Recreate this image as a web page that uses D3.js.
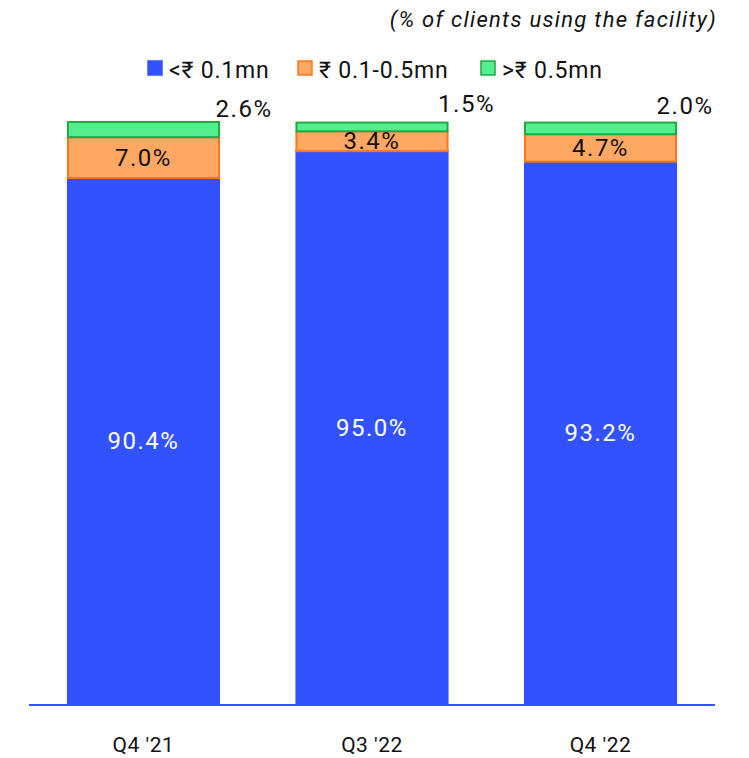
<!DOCTYPE html>
<html>
<head>
<meta charset="utf-8">
<script src="https://cdn.jsdelivr.net/npm/d3@7.9.0/dist/d3.min.js"></script>
<style>
  body { margin: 0; background: #fff; }
  text { font-family: Roboto, "Noto Sans", sans-serif; }
</style>
</head>
<body>
<div id="viz"></div>
<script>
// data
const quarters = ["Q4 '21", "Q3 '22", "Q4 '22"];
const series = ["small", "mid", "large"];
const seriesLabels = ["<₹ 0.1mn", "₹ 0.1-0.5mn", ">₹ 0.5mn"];
const smallValues = [90.4, 95.0, 93.2];
const midValues = [7.0, 3.4, 4.7];
const largeValues = [2.6, 1.5, 2.0];

const fills = ["#3352ff", "#ffa863", "#55ee8c"];
const strokes = ["#3352ff", "#ff7615", "#1faa47"];

const width = 749, height = 758;
const baseline = 705;
const topY = 122;

const svg = d3.select("#viz").append("svg")
  .attr("width", width)
  .attr("height", height);

const rows = quarters.map((q, i) => ({
  quarter: q, small: smallValues[i], mid: midValues[i], large: largeValues[i]
}));

const stacked = d3.stack().keys(series)(rows);

const x = d3.scaleBand()
  .domain(quarters)
  .range([29, 715])
  .paddingInner(0.33)
  .paddingOuter(0.166);

const y = d3.scaleLinear()
  .domain([0, 100])
  .range([baseline, topY]);

// bars
const layers = svg.append("g").selectAll("g")
  .data(stacked)
  .join("g")
  .attr("fill", (d, i) => fills[i])
  .attr("stroke", (d, i) => strokes[i]);

layers.selectAll("rect")
  .data(d => d)
  .join("rect")
  .attr("x", d => x(d.data.quarter) + 1)
  .attr("y", d => y(d[1]))
  .attr("width", x.bandwidth() - 2)
  .attr("height", d => y(d[0]) - y(d[1]))
  .attr("stroke-width", 2);

// axis line
svg.append("line")
  .attr("x1", 29).attr("x2", 715)
  .attr("y1", baseline).attr("y2", baseline)
  .attr("stroke", "#3352ff")
  .attr("stroke-width", 2);

// x tick labels
svg.append("g").selectAll("text")
  .data(quarters)
  .join("text")
  .attr("x", d => x(d) + x.bandwidth() / 2)
  .attr("y", 752)
  .attr("text-anchor", "middle")
  .attr("font-size", 21)
  .attr("letter-spacing", 0.5)
  .attr("fill", "#111")
  .text(d => d);

// labels inside bars (small + mid)
stacked.slice(0, 2).forEach((layer, li) => {
  svg.append("g").selectAll("text")
    .data(layer)
    .join("text")
    .attr("x", d => x(d.data.quarter) + x.bandwidth() / 2)
    .attr("y", d => (y(d[0]) + y(d[1])) / 2 + 8)
    .attr("text-anchor", "middle")
    .attr("font-size", 24)
    .attr("letter-spacing", 1.5)
    .attr("fill", li === 0 ? "#fff" : "#111")
    .text(d => d.data[series[li]].toFixed(1) + "%");
});

// labels above bars for the top segment
const topOffsets = [24, 18, 8];
const topBaselines = [117, 112, 114];
svg.append("g").selectAll("text")
  .data(stacked[2])
  .join("text")
  .attr("x", (d, i) => x(d.data.quarter) + x.bandwidth() + topOffsets[i])
  .attr("y", (d, i) => topBaselines[i])
  .attr("text-anchor", "middle")
  .attr("font-size", 24)
  .attr("letter-spacing", 1.5)
  .attr("fill", "#111")
  .text(d => d.data.large.toFixed(1) + "%");

// legend
const legendX = [147, 297, 480];
const legend = svg.append("g").selectAll("g")
  .data(seriesLabels)
  .join("g")
  .attr("transform", (d, i) => `translate(${legendX[i]},60)`);

legend.append("rect")
  .attr("x", 1).attr("y", 1)
  .attr("width", 14).attr("height", 14)
  .attr("fill", (d, i) => fills[i])
  .attr("stroke", (d, i) => strokes[i])
  .attr("stroke-width", 1.5);

legend.append("text")
  .attr("x", 22)
  .attr("y", 18)
  .attr("font-size", 23)
  .attr("letter-spacing", 0.8)
  .attr("fill", "#111")
  .text(d => d);

// subtitle
svg.append("text")
  .attr("x", 717)
  .attr("y", 27)
  .attr("text-anchor", "end")
  .attr("font-size", 22)
  .attr("letter-spacing", 1.3)
  .attr("font-style", "italic")
  .attr("fill", "#111")
  .text("(% of clients using the facility)");
</script>
</body>
</html>
